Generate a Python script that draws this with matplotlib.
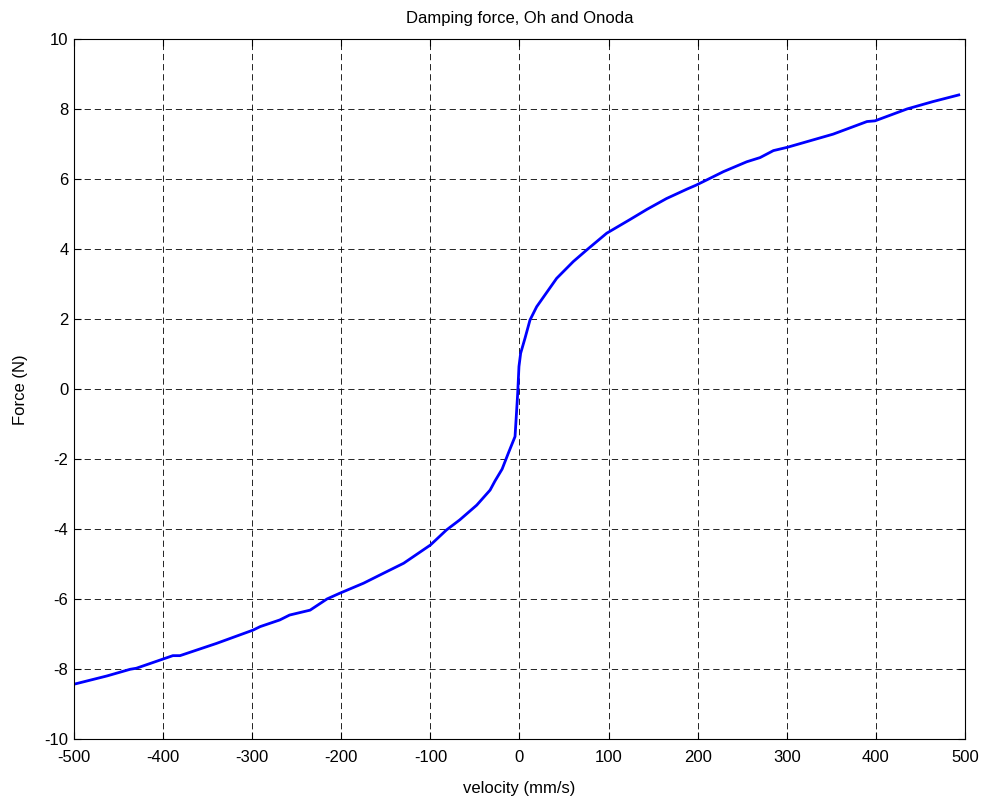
import numpy as np
import matplotlib.pyplot as plt

# damping force curve (Oh and Onoda model), velocity in mm/s, force in N
velocity = [-499, -488, -463, -437, -430, -389, -381, -340, -299, -291,
            -269, -258, -235, -216, -202, -175, -153, -130, -100, -82,
            -67, -48, -33, -27.5, -19.5, -12.6, -5, -2, -0.6, 1.3, 6.2,
            11.8, 19.3, 41.7, 60.4, 75.4, 97.9, 124, 143, 165, 188,
            198, 210, 229, 255, 270, 285, 300, 352, 390, 399,
            435, 464, 493]
force = [-8.42, -8.35, -8.19, -8.00, -7.97, -7.61, -7.61, -7.26, -6.88, -6.78,
         -6.59, -6.45, -6.31, -5.99, -5.83, -5.54, -5.26, -4.97, -4.45, -4.02,
         -3.73, -3.31, -2.88, -2.62, -2.28, -1.83, -1.35, -0.11, 0.65, 1.03, 1.46,
         1.98, 2.36, 3.17, 3.65, 3.98, 4.46, 4.85, 5.14, 5.45, 5.72,
         5.83, 5.98, 6.22, 6.50, 6.62, 6.82, 6.91, 7.29, 7.65, 7.67,
         8.01, 8.22, 8.41]

xticks = np.arange(-500, 501, 100)
yticks = np.arange(-10, 11, 2)

plt.rcParams['font.family'] = ['Liberation Sans', 'DejaVu Sans']
plt.rcParams['axes.unicode_minus'] = False
plt.rcParams['lines.scale_dashes'] = False

fig = plt.figure(figsize=(9.85, 7.97), dpi=100)
ax = fig.add_axes([0.0751, 0.0724, 0.9046, 0.8783])

ax.plot(velocity, force, color=(0, 0, 1), linewidth=2.0)

ax.set_xlim(-500, 500)
ax.set_ylim(-10, 10)
ax.set_xticks(xticks)
ax.set_yticks(yticks)
ax.tick_params(direction='in', length=5, width=0.8, top=True, right=True,
               labelsize=12, colors='black')
ax.tick_params(axis='x', pad=8)
ax.tick_params(axis='y', pad=4)
for side in ax.spines.values():
    side.set_linewidth(0.8)

ax.grid(True, color='black', linewidth=0.6, linestyle=(0, (4.5, 2.8)))
ax.set_axisbelow(True)

ax.set_xlabel('velocity (mm/s)', fontsize=12, labelpad=11)
ax.set_ylabel('Force (N)', fontsize=12, labelpad=12)
ax.set_title('Damping force, Oh and Onoda', fontsize=12, pad=12)

plt.savefig('out.png', dpi=100)
